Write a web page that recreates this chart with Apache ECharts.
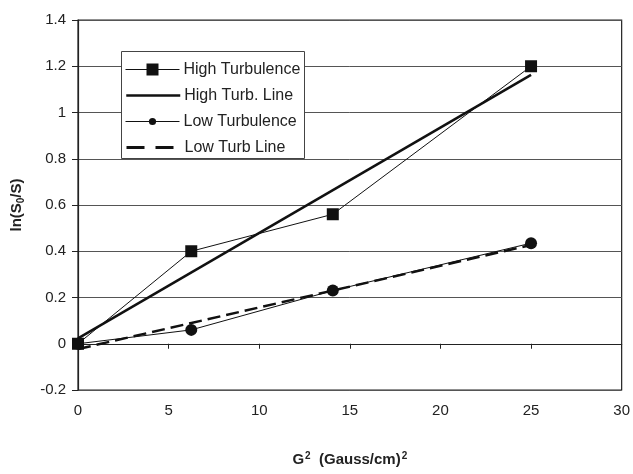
<!DOCTYPE html>
<html>
<head>
<meta charset="utf-8">
<script src="https://cdn.jsdelivr.net/npm/echarts@6/dist/echarts.min.js"></script>
<style>html,body{margin:0;padding:0;background:#fff;}#c{width:633px;height:474px;}</style>
</head>
<body>
<div id="c"></div>
<script>
// G^2 values (Gauss/cm)^2
const gSquared = [0, 6.25, 14.06, 25];
const highTurbulence = [0, 0.40, 0.56, 1.20];
const lowTurbulence = [0, 0.06, 0.23, 0.435];
// fitted lines: endpoints at x = 0 and x = 25
const fitX = [0, 25];
const highTurbLine = [0.023, 1.163];
const lowTurbLine = [-0.023, 0.427];
const seriesNames = ['High Turbulence', 'High Turb. Line', 'Low Turbulence', 'Low Turb Line'];
const xTicks = { min: 0, max: 30, interval: 5 };
const yTicks = { min: -0.2, max: 1.4, interval: 0.2 };

const pair = (xs, ys) => xs.map((x, i) => [x, ys[i]]);
const FONT = '"Liberation Sans", Arial, sans-serif';
const INK = '#111';

// one legend per entry so each icon can have its own marker size
const legendCenters = [69.5, 95.5, 121.5, 147.5];
const legendIconH = [15, 15, 9, 15];
const legendItem = [
  { name: seriesNames[0], lineStyle: { width: 1 } },
  { name: seriesNames[1], itemStyle: { color: 'rgba(0,0,0,0)', borderWidth: 0 }, lineStyle: { width: 2.5 } },
  { name: seriesNames[2], lineStyle: { width: 1 } },
  { name: seriesNames[3], itemStyle: { color: 'rgba(0,0,0,0)', borderWidth: 0 }, lineStyle: { type: [18, 11], width: 3 } }
];
const legends = legendItem.map((item, i) => ({
  orient: 'horizontal',
  left: 125, top: legendCenters[i] - 8,
  padding: 0,
  itemWidth: 54, itemHeight: legendIconH[i], itemGap: 0,
  selectedMode: false,
  z: 10,
  textStyle: { fontFamily: FONT, fontSize: 16, lineHeight: 16, color: '#222', padding: [0, 0, 0, -1] },
  data: [item]
}));

const chart = echarts.init(document.getElementById('c'), null, { renderer: 'canvas' });
chart.setOption({
  animation: false,
  backgroundColor: '#fff',
  textStyle: { fontFamily: FONT, color: '#222' },
  grid: {
    left: 78, right: 11, top: 20, bottom: 36,
    show: true, borderColor: '#222', borderWidth: 1.2, backgroundColor: 'transparent'
  },
  graphic: [{
    type: 'rect', z: 5, silent: true,
    shape: { x: 121.5, y: 51.5, width: 183, height: 107 },
    style: { fill: '#fff', stroke: '#444', lineWidth: 1 }
  }],
  legend: legends,
  xAxis: {
    type: 'value',
    min: xTicks.min, max: xTicks.max, interval: xTicks.interval,
    axisLine: { onZero: true, lineStyle: { color: '#222', width: 1.2 } },
    axisTick: { show: true, length: 5, lineStyle: { color: '#222' } },
    axisLabel: { fontFamily: FONT, fontSize: 15, color: '#222', margin: 13 },
    splitLine: { show: false },
    name: 'G{sup|2}  (Gauss/cm){sup|2}',
    nameLocation: 'middle',
    nameGap: 61,
    nameTextStyle: {
      fontFamily: FONT, fontSize: 15, fontWeight: 'bold', color: '#222', lineHeight: 18,
      rich: { sup: { fontFamily: FONT, fontSize: 10, fontWeight: 'bold', color: '#222', verticalAlign: 'top', lineHeight: 18, padding: [0, 0, 6, 1] } }
    }
  },
  yAxis: {
    type: 'value',
    min: yTicks.min, max: yTicks.max, interval: yTicks.interval,
    axisLine: { show: true, onZero: false, lineStyle: { color: '#222', width: 1.2 } },
    axisTick: { show: true, length: 6, lineStyle: { color: '#222' } },
    axisLabel: { fontFamily: FONT, fontSize: 15, color: '#222', margin: 12 },
    splitLine: { show: true, lineStyle: { color: '#555', width: 1 } },
    name: 'ln(S{sub|0}/S)',
    nameLocation: 'middle',
    nameRotate: 90,
    nameGap: 52,
    nameTextStyle: {
      fontFamily: FONT, fontSize: 15, fontWeight: 'bold', color: '#222', lineHeight: 18,
      rich: { sub: { fontFamily: FONT, fontSize: 10, fontWeight: 'bold', color: '#222', verticalAlign: 'bottom', lineHeight: 18, padding: [4, 0, 0, 0] } }
    }
  },
  series: [
    {
      name: seriesNames[0], type: 'line', data: pair(gSquared, highTurbulence),
      symbol: 'rect', symbolSize: 12, showAllSymbol: true,
      lineStyle: { color: INK, width: 1 }, itemStyle: { color: INK }, z: 3
    },
    {
      name: seriesNames[1], type: 'line', data: pair(fitX, highTurbLine),
      symbol: 'none',
      lineStyle: { color: INK, width: 2.5 }, itemStyle: { color: INK }, z: 2
    },
    {
      name: seriesNames[2], type: 'line', data: pair(gSquared, lowTurbulence),
      symbol: 'circle', symbolSize: 12, showAllSymbol: true,
      lineStyle: { color: INK, width: 1 }, itemStyle: { color: INK }, z: 3
    },
    {
      name: seriesNames[3], type: 'line', data: pair(fitX, lowTurbLine),
      symbol: 'none',
      lineStyle: { color: INK, width: 2.5, type: [13, 6] }, itemStyle: { color: INK }, z: 2
    }
  ]
});
</script>
</body>
</html>
